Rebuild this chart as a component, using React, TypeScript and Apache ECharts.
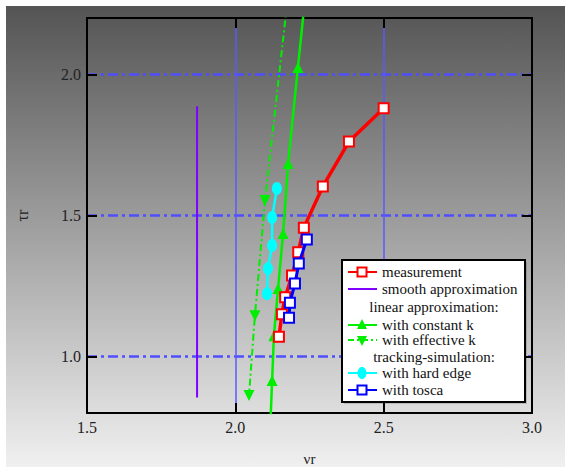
import React, { useEffect, useRef } from "react";
import * as echarts from "echarts";

const xTicks = [1.5, 2.0, 2.5, 3.0];
const yTicks = [1.0, 1.5, 2.0];

const measurement: number[][] = [
  [2.5, 1.88], [2.383, 1.762], [2.295, 1.603], [2.231, 1.457], [2.212, 1.37],
  [2.191, 1.287], [2.168, 1.21], [2.157, 1.15], [2.147, 1.07],
];
const smoothApprox: number[][] = [
  [1.871, 0.855], [1.871, 1.5], [1.871, 1.887],
];
const constantK: number[][] = [
  [2.243, 2.35], [2.211, 2.025], [2.178, 1.684], [2.161, 1.436], [2.144, 1.241],
  [2.13, 1.074], [2.124, 0.915], [2.114, 0.65],
];
const effectiveK: number[][] = [
  [2.185, 2.35], [2.1, 1.553], [2.066, 1.145], [2.046, 0.862],
];
const hardEdge: number[][] = [
  [2.14, 1.596], [2.124, 1.493], [2.124, 1.394], [2.11, 1.312], [2.107, 1.223],
];
const tosca: number[][] = [
  [2.241, 1.415], [2.214, 1.33], [2.201, 1.259], [2.184, 1.191], [2.181, 1.138],
];

const legendRows = [
  { kind: "meas", text: "measurement" },
  { kind: "smooth", text: "smooth approximation" },
  { kind: "header", text: "linear approximation:" },
  { kind: "const", text: "with constant k" },
  { kind: "eff", text: "with effective k" },
  { kind: "header", text: "tracking-simulation:" },
  { kind: "hard", text: "with hard edge" },
  { kind: "tosca", text: "with tosca" },
];

const FONT = "Liberation Serif, Times New Roman, DejaVu Serif, serif";
const LZ = 100;

function buildLegend() {
  const x0 = 342, y0 = 260, w = 183, h = 142;
  const children: any[] = [
    { type: "rect", z: LZ, shape: { x: x0 + 2, y: y0 + 2, width: w, height: h }, style: { fill: "rgba(0,0,0,0.15)" } },
    { type: "rect", z: LZ, shape: { x: x0, y: y0, width: w, height: h }, style: { fill: "#ffffff", stroke: "#000", lineWidth: 2 } },
  ];
  const rowY = [272, 289, 307, 325, 340, 357, 373, 390];
  const lx1 = 348, lx2 = 377, mx = 362, tx = 382;
  legendRows.forEach((r, i) => {
    const y = rowY[i];
    if (r.kind === "header") {
      children.push({ type: "text", z: LZ + 1, x: 434, y, style: { text: r.text, fontFamily: FONT, fontSize: 15, fill: "#111", align: "center", verticalAlign: "middle" } });
      return;
    }
    let color = "#ff0000";
    let dash: any = null;
    if (r.kind === "smooth") color = "#8000ff";
    if (r.kind === "const" || r.kind === "eff") color = "#00ee00";
    if (r.kind === "eff") dash = [6, 3, 2, 3];
    if (r.kind === "hard") color = "#00ffff";
    if (r.kind === "tosca") color = "#0000ff";
    children.push({ type: "line", z: LZ + 1, shape: { x1: lx1, y1: y, x2: lx2, y2: y }, style: { stroke: color, lineWidth: 2, lineDash: dash } });
    if (r.kind === "meas" || r.kind === "tosca") {
      children.push({ type: "rect", z: LZ + 2, shape: { x: mx - 4.5, y: y - 4.5, width: 9, height: 9 }, style: { fill: "#fff", stroke: color, lineWidth: 2 } });
    } else if (r.kind === "const") {
      children.push({ type: "polygon", z: LZ + 2, shape: { points: [[mx, y - 6], [mx - 5, y + 4], [mx + 5, y + 4]] }, style: { fill: color } });
    } else if (r.kind === "eff") {
      children.push({ type: "polygon", z: LZ + 2, shape: { points: [[mx, y + 6], [mx - 5, y - 4], [mx + 5, y - 4]] }, style: { fill: color } });
    } else if (r.kind === "hard") {
      children.push({ type: "ellipse", z: LZ + 2, shape: { cx: mx, cy: y, rx: 4.5, ry: 6 }, style: { fill: color } });
    }
    children.push({ type: "text", z: LZ + 1, x: tx, y, style: { text: r.text, fontFamily: FONT, fontSize: 15, fill: "#111", verticalAlign: "middle" } });
  });
  return { type: "group", z: LZ, children };
}

export default function App() {
  const ref = useRef<HTMLDivElement>(null);
  useEffect(() => {
    if (!ref.current) return;
    const chart = echarts.init(ref.current, null, { renderer: "svg" });
    const axisLabelStyle = { color: "#222", fontFamily: FONT, fontSize: 16 };
    const option: any = {
      animation: false,
      backgroundColor: "#ffffff",
      grid: { left: 87, right: 33, top: 18, bottom: 54, show: false, containLabel: false, outerBoundsMode: "none" },
      graphic: [
        {
          type: "rect", z: -10, silent: true,
          shape: { x: 6, y: 6, width: 559, height: 461 },
          style: {
            fill: new echarts.graphic.LinearGradient(0, 0, 0, 1, [
              { offset: 0, color: "#545454" },
              { offset: 1, color: "#f0f0f0" },
            ]),
          },
        },
        buildLegend(),
      ],
      xAxis: [
        {
          type: "value", min: 1.5, max: 3.0, interval: 0.5, position: "bottom",
          name: "νr", nameLocation: "middle", nameGap: 38,
          nameTextStyle: { color: "#222", fontFamily: FONT, fontSize: 15 },
          axisLine: { show: true, onZero: false, lineStyle: { color: "#000", width: 2 } },
          axisTick: { show: true, inside: true, length: 10, lineStyle: { color: "#000", width: 2 } },
          axisLabel: { ...axisLabelStyle, margin: 6, formatter: (v: number) => v.toFixed(1) },
          splitLine: { show: true, lineStyle: { color: "#5a5aff", width: 1.5 } },
        },
        {
          type: "value", min: 1.5, max: 3.0, interval: 0.5, position: "top",
          axisLine: { show: true, onZero: false, lineStyle: { color: "#000", width: 2 } },
          axisTick: { show: true, inside: true, length: 10, lineStyle: { color: "#000", width: 2 } },
          axisLabel: { show: false },
          splitLine: { show: false },
        },
      ],
      yAxis: [
        {
          type: "value", min: 0.8, max: 2.2, position: "left",
          name: "τr", nameLocation: "middle", nameGap: 57, nameRotate: 90,
          nameTextStyle: { color: "#222", fontFamily: FONT, fontSize: 16 },
          axisLine: { show: true, onZero: false, lineStyle: { color: "#000", width: 2 } },
          axisTick: { show: true, inside: true, length: 10, customValues: yTicks, lineStyle: { color: "#000", width: 2 } },
          axisLabel: { ...axisLabelStyle, margin: 6, customValues: yTicks, formatter: (v: number) => v.toFixed(1) },
          splitLine: { show: true, lineStyle: { color: "#4f4fff", width: 2.5, type: [10, 4, 3, 4] } },
        },
        {
          type: "value", min: 0.8, max: 2.2, position: "right",
          axisLine: { show: true, onZero: false, lineStyle: { color: "#000", width: 2 } },
          axisTick: { show: true, inside: true, length: 10, customValues: yTicks, lineStyle: { color: "#000", width: 2 } },
          axisLabel: { show: false, customValues: yTicks },
          splitLine: { show: false },
        },
      ],
      series: [
        {
          name: "smooth approximation", type: "line", data: smoothApprox, showSymbol: false, symbol: "none",
          lineStyle: { color: "#8000ff", width: 2 }, z: 3,
        },
        {
          name: "with effective k", type: "line", data: effectiveK, symbol: "triangle", symbolRotate: 180, symbolSize: 11,
          itemStyle: { color: "#00ee00" }, lineStyle: { color: "#00ee00", width: 2, type: [7, 3, 2, 3] }, z: 4,
        },
        {
          name: "with constant k", type: "line", data: constantK, symbol: "triangle", symbolSize: 11,
          itemStyle: { color: "#00ee00" }, lineStyle: { color: "#00ee00", width: 2.5 }, z: 4,
        },
        {
          name: "with hard edge", type: "line", data: hardEdge, symbol: "circle", symbolSize: [10, 13],
          itemStyle: { color: "#00ffff" }, lineStyle: { color: "#00ffff", width: 2.5 }, z: 5,
        },
        {
          name: "measurement", type: "line", data: measurement, symbol: "rect", symbolSize: 10,
          itemStyle: { color: "#ffffff", borderColor: "#ff0000", borderWidth: 2 },
          lineStyle: { color: "#ff0000", width: 3.5 }, z: 6,
        },
        {
          name: "with tosca", type: "line", data: tosca, symbol: "rect", symbolSize: 10,
          itemStyle: { color: "#ffffff", borderColor: "#0000ff", borderWidth: 2 },
          lineStyle: { color: "#0000ff", width: 3 }, z: 7,
        },
      ],
    };
    chart.setOption(option);
    return () => chart.dispose();
  }, []);
  return (
    <div
      ref={ref}
      style={{ position: "absolute", left: 0, top: 0, width: 565, height: 467 }}
    />
  );
}
